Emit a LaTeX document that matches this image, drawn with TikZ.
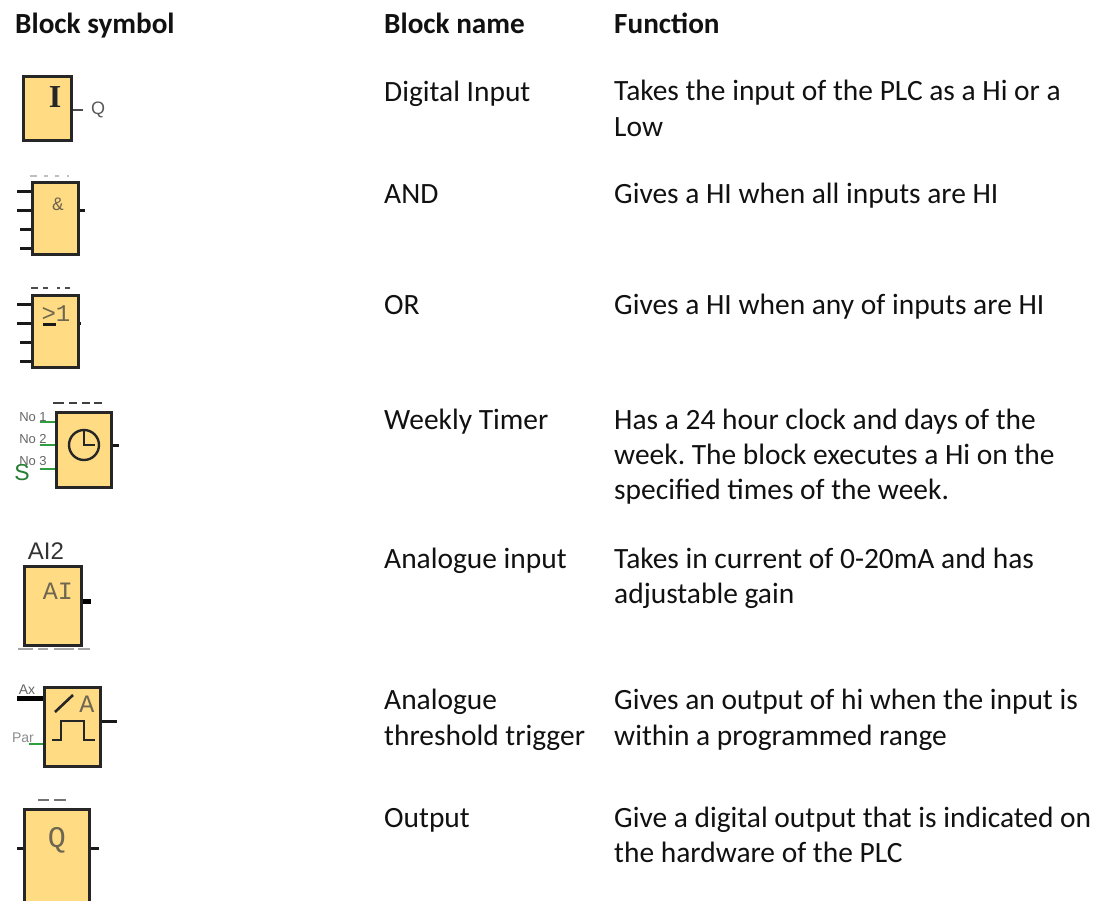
\documentclass[tikz,border=0pt]{standalone}
\usepackage{fontspec}
\setmainfont{Carlito}
\newfontfamily\labelfont{Liberation Sans}
\newfontfamily\monofont{Liberation Mono}
\newfontfamily\serifblock{Liberation Serif}
\definecolor{blockfill}{HTML}{FFDB84}
\definecolor{pinGreen}{HTML}{2E9E3E}
\definecolor{glyphGrey}{HTML}{6E6650}
\definecolor{bodytext}{HTML}{111111}
\tikzset{
  x=1pt,y=-1pt,
  cell/.style={anchor=base west,inner sep=0pt,font=\frenchspacing\fontsize{29.45}{35.3}\selectfont,text=bodytext,align=left},
  head/.style={cell,font=\fontsize{29.2}{35.3}\selectfont\bfseries},
  blockbox/.style={draw=black!85,fill=blockfill,line width=3pt,inner sep=0pt,minimum width=#1},
  stub/.style={draw=black!90,line width=3pt},
  gstub/.style={draw=pinGreen,line width=2.6pt},
  thickstub/.style={draw=black,line width=5pt},
  glyph/.style={inner sep=0pt,text=glyphGrey},
  pinlabel/.style={inner sep=0pt,text=black!60,font=\labelfont\fontsize{13}{13}\selectfont},
  scrap/.style={draw=black!45,line width=1.8pt},
}
\begin{document}
\begin{tikzpicture}
\useasboundingbox (0,0) rectangle (1103,900);
\fill[white] (0,0) rectangle (1103,900);
% headers
\node[head] (h1) at (15,33) {Block symbol};
\node[head] (h2) at (384,33) {Block name};
\node[head] (h3) at (614,33) {Function};
% names (a node's base anchor is the baseline of its last line)
\node[cell] (n1) at (384,101) {Digital Input};
\node[cell] (n2) at (384,203) {AND};
\node[cell] (n3) at (384,314) {OR};
\node[cell] (n4) at (384,429) {Weekly Timer};
\node[cell] (n5) at (384,568) {Analogue input};
\node[cell] (n6) at (384,745) {Analogue\\threshold trigger};
\node[cell] (n7) at (384,827) {Output};
% functions
\node[cell] (f1) at (614,136) {Takes the input of the PLC as a Hi or a\\Low};
\node[cell] (f2) at (614,203) {Gives a HI when all inputs are HI};
\node[cell] (f3) at (614,314) {Gives a HI when any of inputs are HI};
\node[cell] (f4) at (614,499.6) {Has a 24 hour clock and days of the\\week. The block executes a Hi on the\\specified times of the week.};
\node[cell] (f5) at (614,603.3) {Takes in current of 0-20mA and has\\adjustable gain};
\node[cell] (f6) at (614,745) {Gives an output of hi when the input is\\within a programmed range};
\node[cell] (f7) at (614,862.3) {Give a digital output that is indicated on\\the hardware of the PLC};

% Digital input
\node[blockbox=48pt,minimum height=64pt] (bI) at (47,108) {};
\node[inner sep=0pt,text=black!85,font=\serifblock\bfseries\fontsize{32}{32}\selectfont] (bIt) at (55,97) {I};
\coordinate (bIq) at (83,110);
\draw[stub,line width=1.8pt,black!70] (bI.east |- bIq) -- (bIq);
\node[inner sep=0pt,text=black!65,font=\labelfont\fontsize{18}{18}\selectfont] (bIl) at (98,110) {Q};

% AND
\node[blockbox=46pt,minimum height=72pt] (bA) at (55,218) {};
\node[glyph,font=\monofont\fontsize{19}{19}\selectfont] (bAt) at (58,204) {\&};
\coordinate (a1) at (17,191); \coordinate (a2) at (17,210); \coordinate (a3) at (20,229); \coordinate (a4) at (20,248); \coordinate (ao) at (85,210);
\foreach \c in {a1,a2,a3,a4} \draw[stub] (bA.west |- \c) -- (\c);
\draw[stub] (bA.east |- ao) -- (ao);
\draw[scrap,black!25] (30,176) -- (37,176) (44,176) -- (48,176) (55,176) -- (59,176) (67,176) -- (69,176);

% OR
\node[blockbox=46pt,minimum height=72pt] (bO) at (55,331) {};
\node[glyph,font=\monofont\fontsize{24}{24}\selectfont] (bOt) at (56,314) {>1};
\draw[stub] (43,324.5) -- (56,324.5);
\coordinate (o1) at (17,304); \coordinate (o2) at (17,323); \coordinate (o3) at (20,342); \coordinate (o4) at (20,361); \coordinate (oo) at (81,323);
\foreach \c in {o1,o2,o3,o4} \draw[stub] (bO.west |- \c) -- (\c);
\draw[stub] (bO.east |- oo) -- (oo);
\draw[scrap,black!70] (31,288) -- (38,288) (43,288) -- (48,288) (57,288) -- (60,288) (65,288) -- (70,288);

% Weekly timer
\node[blockbox=55pt,minimum height=75pt] (bT) at (83.5,449.5) {};
\node[circle,draw=black!85,line width=2.4pt,minimum size=30pt,inner sep=0pt] (clk) at (84,445) {};
\draw[black!85,line width=2.4pt] (clk.north) -- (clk.center) -- ++(11,0);
\coordinate (t1) at (40,422); \coordinate (t2) at (40,445); \coordinate (t3) at (40,469); \coordinate (to) at (119,445);
\foreach \c in {t1,t2,t3} \draw[gstub] (bT.west |- \c) -- (\c);
\draw[stub] (bT.east |- to) -- (to);
\node[pinlabel] (tl1) at (33,417) {No 1};
\node[pinlabel] (tl2) at (33,439) {No 2};
\node[pinlabel] (tl3) at (33,461) {No 3};
\node[inner sep=0pt,text=pinGreen!80!black,font=\labelfont\fontsize{23}{23}\selectfont] (ts) at (22,473) {S};
\draw[scrap,line width=2.2pt,black!75] (53,403) -- (64,403) (69,403) -- (77,403) (82,403) -- (90,403) (94,403) -- (102,403);

% Analogue input
\node[blockbox=57pt,minimum height=79pt] (bAI) at (52.5,605.5) {};
\node[inner sep=0pt,text=black!80,font=\labelfont\fontsize{24}{24}\selectfont] (ail) at (46,551) {AI2};
\node[glyph,font=\monofont\fontsize{25}{25}\selectfont] (ait) at (58,591) {AI};
\coordinate (aio) at (91,601);
\draw[thickstub] (bAI.east |- aio) -- (aio);
\draw[scrap,black!35] (18,649) -- (33,649) (38,649) -- (48,649) (54,649) -- (74,649) (78,649) -- (90,649);

% Threshold trigger
\node[blockbox=56pt,minimum height=79pt] (bTh) at (72,726.5) {};
\coordinate (thx) at (17,698); \coordinate (thp) at (29,744); \coordinate (tho) at (117,721);
\draw[thickstub] (bTh.west |- thx) -- (thx);
\draw[gstub] (bTh.west |- thp) -- (thp);
\draw[stub] (bTh.east |- tho) -- (tho);
\node[pinlabel,font=\labelfont\fontsize{14}{14}\selectfont] (thxl) at (27,690) {Ax};
\node[pinlabel,font=\labelfont\fontsize{14}{14}\selectfont,text=black!45] (thpl) at (23,738) {Par};
\node[glyph,font=\monofont\fontsize{25}{25}\selectfont] (tha) at (87,704) {A};
\draw[black!85,line width=2.6pt] (55,712) -- (73,695);
\draw[black!85,line width=2.8pt] (52,740) -- (61,740) -- (61,721) -- (84,721) -- (84,740) -- (95,740);

% Output
\node[blockbox=65pt,minimum height=100pt] (bQ) at (56.5,859) {};
\node[glyph,font=\monofont\fontsize{30}{30}\selectfont] (qt) at (57,840) {Q};
\coordinate (ql) at (17,848); \coordinate (qr) at (99,848);
\draw[stub] (bQ.west |- ql) -- (ql);
\draw[stub] (bQ.east |- qr) -- (qr);
\draw[scrap,black!55] (38,800) -- (49,800) (54,800) -- (66,800);
\end{tikzpicture}
\end{document}
